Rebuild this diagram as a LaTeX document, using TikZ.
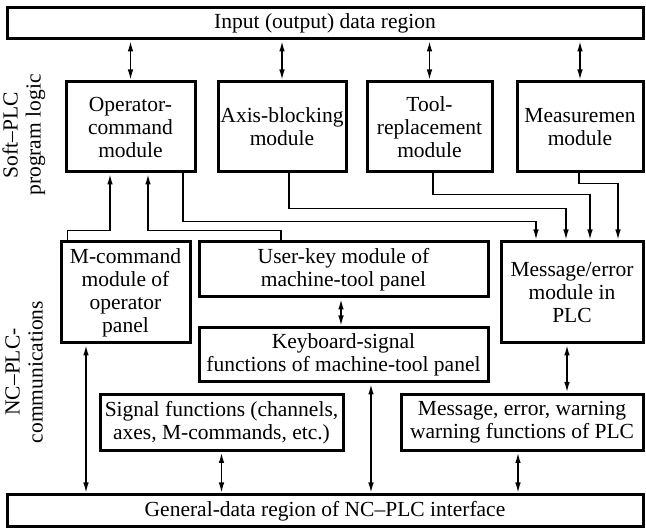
\documentclass[tikz,border=0pt]{standalone}
\usepackage{fontspec}
\setmainfont{Liberation Serif}
\usetikzlibrary{arrows.meta,calc}

\begin{document}
\begin{tikzpicture}[x=1pt,y=-1pt,
  txt/.style={font=\fontsize{21.5pt}{23pt}\selectfont},
  box/.style={txt,draw,line width=3pt,align=center,inner sep=0pt},
  link/.style={line width=1.8pt},
  tip/.tip={Latex[length=11pt,width=5.5pt]},
  arr/.style={link,-tip},
  dbl/.style={link,tip-tip},
  side/.style={txt,rotate=90,align=center}]

\useasboundingbox (0,0) rectangle (646,529);

% data regions
\node[box,minimum width=636pt,minimum height=31pt] (top) at (325,23.5) {Input (output) data region};
\node[box,minimum width=636pt,minimum height=32pt] (bottom) at (325,511) {General-data region of NC--PLC interface};

% Soft-PLC program logic modules
\node[box,minimum width=129pt,minimum height=90pt] (op)   at (130.5,127) {Operator-\\command\\module};
\node[box,minimum width=128pt,minimum height=90pt] (axis) at (282,127)   {Axis-blocking\\module};
\node[box,minimum width=125pt,minimum height=90pt] (tool) at (429.5,127) {Tool-\\replacement\\module};
\node[box,minimum width=126pt,minimum height=90pt] (meas) at (580,127)   {Measuremen\\module};

% NC-PLC communication modules
\node[box,minimum width=129pt,minimum height=101pt] (mcmd) at (125.5,292.5) {M-command\\module of\\operator\\panel};
\node[box,minimum width=289pt,minimum height=55pt]  (ukey) at (343.5,269.5) {User-key module of\\machine-tool panel};
\node[box,minimum width=289pt,minimum height=54pt]  (kbd)  at (343.5,355)   {Keyboard-signal\\functions of machine-tool panel};
\node[box,minimum width=142pt,minimum height=101pt] (msg)  at (572,292.5)   {Message/error\\module in\\PLC};
\node[box,minimum width=243pt,minimum height=56pt]  (sig)  at (221.5,422.5) {Signal functions (channels,\\axes, M-commands, etc.)};
\node[box,minimum width=242pt,minimum height=56pt]  (warn) at (522,422.5)   {Message, error, warning\\warning functions of PLC};

% side captions
\node[side] (lblsoft) at (24,135) {Soft--PLC\\program logic};
\node[side] (lblnc)   at (24,372) {NC--PLC-\\communications};

% links to the input (output) data region
\foreach \m in {op,axis,tool,meas}
  \draw[dbl] (\m.north) -- (\m.north |- top.south);

% links into the operator-command module
\draw[arr] ([xshift=8pt]mcmd.north west) -- ++(0,-10) -| ([xshift=-20.5pt]op.south);
\draw[arr] ([xshift=-62.5pt]ukey.north) -- ++(0,-10) -| ([xshift=17.5pt]op.south);

% links into the message/error module
\draw[arr] ([xshift=52.5pt]op.south) -- ++(0,48) -| ([xshift=-36pt]msg.north);
\draw[arr] ([xshift=7pt]axis.south) -- ++(0,35) -| ([xshift=-6pt]msg.north);
\draw[arr] ([xshift=3.5pt]tool.south) -- ++(0,21) -| ([xshift=18pt]msg.north);
\draw[arr] ([xshift=-1pt]meas.south) -- ++(0,10) -| ([xshift=46pt]msg.north);

% vertical exchanges
\draw[dbl] ([xshift=-2.5pt]ukey.south) -- ([xshift=-2.5pt]ukey.south |- kbd.north);
\draw[dbl] ([xshift=-5pt]msg.south) -- ([xshift=-5pt]msg.south |- warn.north);
\draw[dbl] ([xshift=-39.5pt]mcmd.south) -- ([xshift=-39.5pt]mcmd.south |- bottom.north);
\draw[dbl] (sig.south) -- (sig.south |- bottom.north);
\draw[dbl] ([xshift=27.5pt]kbd.south) -- ([xshift=27.5pt]kbd.south |- bottom.north);
\draw[dbl] ([xshift=-4pt]warn.south) -- ([xshift=-4pt]warn.south |- bottom.north);

\end{tikzpicture}
\end{document}
